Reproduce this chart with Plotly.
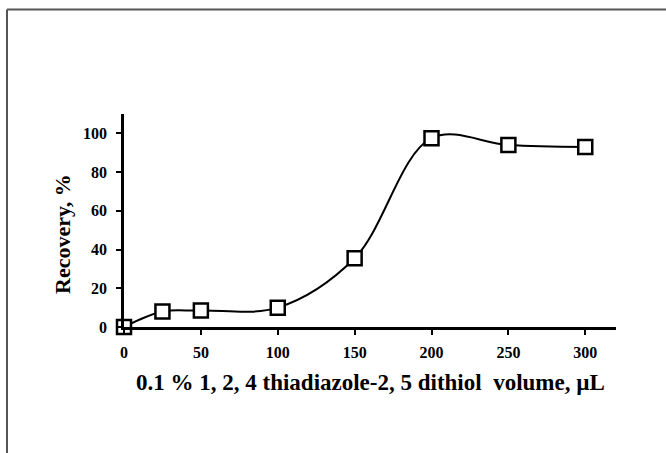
import plotly.graph_objects as go

# Recovery vs. reagent volume
volume_ul = [0, 25, 50, 100, 150, 200, 250, 300]
recovery_pct = [0, 8, 8.5, 10, 35.5, 97.5, 94, 93]

x_ticks = [0, 50, 100, 150, 200, 250, 300]
y_ticks = [0, 20, 40, 60, 80, 100]

x_title = "<b>0.1 % 1, 2, 4 thiadiazole-2, 5 dithiol\u00a0 volume, \u00b5L</b>"
y_title = "<b>Recovery, %</b>"

W, H = 666, 453
L, R, T, B = 124, 50, 114, 126
pw, ph = W - L - R, H - T - B


def px_to_paper_x(px):
    return (px - L) / pw


def px_to_paper_y(py):
    return (H - B - py) / ph


font_fam = "Liberation Serif, Times New Roman, serif"

fig = go.Figure()
fig.add_trace(go.Scatter(
    x=volume_ul,
    y=recovery_pct,
    mode="lines+markers",
    line=dict(color="black", width=2, shape="spline", smoothing=1.0),
    marker=dict(symbol="square", size=14, color="white",
                line=dict(color="black", width=2.5)),
    cliponaxis=False,
    showlegend=False,
))

# outer frame (top and left edges)
frame_color = "#555555"
fig.add_shape(type="line", xref="paper", yref="paper",
              x0=px_to_paper_x(7), x1=px_to_paper_x(667),
              y0=px_to_paper_y(9.5), y1=px_to_paper_y(9.5),
              line=dict(color=frame_color, width=2))
fig.add_shape(type="line", xref="paper", yref="paper",
              x0=px_to_paper_x(7), x1=px_to_paper_x(7),
              y0=px_to_paper_y(9.5), y1=px_to_paper_y(454),
              line=dict(color=frame_color, width=2))

# axis titles
fig.add_annotation(text=x_title, xref="paper", yref="paper",
                   x=0.5, y=px_to_paper_y(382),
                   xanchor="center", yanchor="middle", showarrow=False,
                   font=dict(size=23, family=font_fam, color="black"))
fig.add_annotation(text=y_title, xref="paper", yref="paper",
                   x=px_to_paper_x(62), y=px_to_paper_y(234),
                   xanchor="center", yanchor="middle", showarrow=False,
                   textangle=-90,
                   font=dict(size=22, family=font_fam, color="black"))

tick_font = dict(size=16, family=font_fam, weight="bold", color="black")

fig.update_layout(
    width=W, height=H,
    margin=dict(l=L, r=R, t=T, b=B, autoexpand=False),
    paper_bgcolor="white",
    plot_bgcolor="white",
    font=dict(family=font_fam, color="black"),
    xaxis=dict(
        range=[0, 320],
        tickvals=x_ticks,
        ticktext=[str(v) for v in x_ticks],
        showgrid=False, zeroline=False,
        showline=True, linecolor="black", linewidth=2.5,
        ticks="outside", ticklen=5, tickwidth=2, tickcolor="black",
        tickfont=tick_font,
        ticklabelstandoff=4,
    ),
    yaxis=dict(
        range=[0, 110],
        tickvals=y_ticks,
        ticktext=[str(v) for v in y_ticks],
        showgrid=False, zeroline=False,
        showline=True, linecolor="black", linewidth=2.5,
        ticks="outside", ticklen=5, tickwidth=2, tickcolor="black",
        tickfont=tick_font,
        ticklabelstandoff=6,
    ),
)

fig.write_html("out.html")
